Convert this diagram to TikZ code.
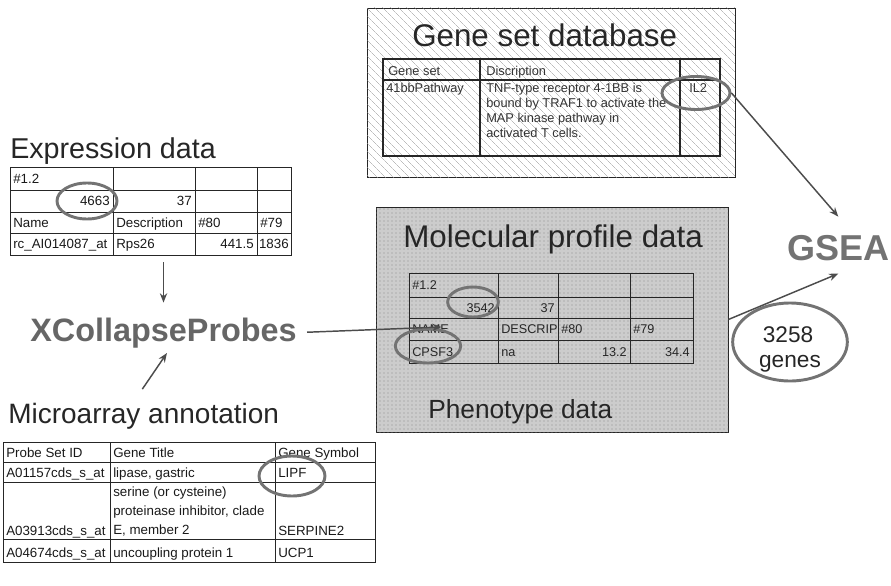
\documentclass[tikz,border=0pt]{standalone}
\usepackage{fontspec}
\setmainfont{Liberation Sans}
\usetikzlibrary{arrows.meta,patterns.meta,shapes.geometric,fit}
\begin{document}
\begin{tikzpicture}[x=0.75pt,y=-0.75pt,
  tl/.style={draw=black!85, line width=0.6pt},
  cell/.style={font=\fontsize{10}{12}\selectfont, inner sep=0pt, text=black!90},
  mcell/.style={font=\fontsize{9.5}{11}\selectfont, inner sep=0pt, text=black!85},
  gcell/.style={font=\fontsize{9.6}{11.25}\selectfont, inner sep=0pt, text=black!80},
  acell/.style={font=\fontsize{10}{14.25}\selectfont, inner sep=0pt, text=black!90},
  title/.style={inner sep=0pt, text=black!85},
  ring/.style={ellipse, draw=black!55, line width=2.2pt, inner sep=0pt},
  arr/.style={draw=black!70, line width=1.1pt, -{Stealth[length=7pt,width=5.5pt]}},
  box/.style={inner sep=0pt, draw=black!85, line width=0.6pt}
]
\useasboundingbox (0,0) rectangle (891,585);

% ---------------- Gene set database ----------------
\node[box, fit={(367,8) (735,177)}, fill=white,
  postaction={pattern={Lines[angle=-45,distance=4pt,line width=0.35pt]}, pattern color=black!40}] (gsdb) {};
\node[title, font=\fontsize{23.5}{26}\selectfont, anchor=base west] (gstitle) at (412,47) {Gene set database};
\node[box, line width=1pt, fit={(383,59) (720,156)}] (gstab) {};
\draw[tl, line width=1pt] (383,80) -- (720,80) (480,59) -- (480,156) (680,59) -- (680,156);
\node[gcell, anchor=base west] (g11) at (388,75) {Gene set};
\node[gcell, anchor=base west] (g12) at (486,75) {Discription};
\node[gcell, anchor=base west] (g21) at (386,92) {41bbPathway};
\node[gcell, anchor=north west, align=left] (g22) at (486,83) {TNF-type receptor 4-1BB is\\bound by TRAF1 to activate the\\MAP kinase pathway in\\activated T cells.};
\node[gcell, anchor=base west] (g23) at (689,92) {IL2};
\node[ring, minimum width=51pt, minimum height=24.75pt] (il2) at (696,93) {};

% ---------------- Expression data ----------------
\node[title, font=\fontsize{21.5}{24}\selectfont, anchor=base west] (exptitle) at (10,158) {Expression data};
\node[box, fit={(10,167) (291,255)}] (et) {};
\draw[tl] (10,190) -- (291,190) (10,212) -- (291,212) (10,233) -- (291,233)
          (113,167) -- (113,255) (195,167) -- (195,255) (257,167) -- (257,255);
\node[cell, anchor=base west] (e11) at (13,183) {\#1.2};
\node[cell, anchor=base east] (e21) at (110,205) {4663};
\node[cell, anchor=base east] (e22) at (192,205) {37};
\node[cell, anchor=base west] (e31) at (13,227) {Name};
\node[cell, anchor=base west] (e32) at (116,227) {Description};
\node[cell, anchor=base west] (e33) at (198,227) {\#80};
\node[cell, anchor=base west] (e34) at (260,227) {\#79};
\node[cell, anchor=base west] (e41) at (13,248) {rc\_AI014087\_at};
\node[cell, anchor=base west] (e42) at (116,248) {Rps26};
\node[cell, anchor=base east] (e43) at (254,248) {441.5};
\node[cell, anchor=base east] (e44) at (289,248) {1836};
\node[ring, minimum width=45pt, minimum height=27pt] (r4663) at (87,201) {};

% ---------------- XCollapseProbes ----------------
\node[title, font=\bfseries\fontsize{24.3}{27}\selectfont, text=black!60, anchor=base west] (xcp) at (30,341) {XCollapseProbes};

% ---------------- Microarray annotation ----------------
\node[title, font=\fontsize{21}{24}\selectfont, anchor=base west] (matitle) at (8,423) {Microarray annotation};
\node[box, fit={(3,442) (375,562)}] (mt) {};
\draw[tl] (3,462) -- (375,462) (3,482) -- (375,482) (3,539) -- (375,539)
          (110,442) -- (110,562) (275,442) -- (275,562);
\node[acell, anchor=base west] (a11) at (6,457) {Probe Set ID};
\node[acell, anchor=base west] (a12) at (113,457) {Gene Title};
\node[acell, anchor=base west] (a13) at (278,457) {Gene Symbol};
\node[acell, anchor=base west] (a21) at (6,477) {A01157cds\_s\_at};
\node[acell, anchor=base west] (a22) at (113,477) {lipase, gastric};
\node[acell, anchor=base west] (a23) at (278,477) {LIPF};
\node[acell, anchor=base west] (a31) at (6,535) {A03913cds\_s\_at};
\node[acell, anchor=north west, align=left] (a32) at (113,487) {serine (or cysteine)\\proteinase inhibitor, clade\\E, member 2};
\node[acell, anchor=base west] (a33) at (278,535) {SERPINE2};
\node[acell, anchor=base west] (a41) at (6,557) {A04674cds\_s\_at};
\node[acell, anchor=base west] (a42) at (113,557) {uncoupling protein 1};
\node[acell, anchor=base west] (a43) at (278,557) {UCP1};
\node[ring, minimum width=49.5pt, minimum height=30pt] (rlipf) at (292,476) {};

% ---------------- Molecular profile data ----------------
\node[box, fit={(376,207) (728,432)}, fill=black!20,
  postaction={pattern={Dots[distance=3pt,radius=0.55pt]}, pattern color=black!45}] (mol) {};
\node[title, font=\fontsize{23.5}{26}\selectfont, anchor=base west] (moltitle) at (403,247) {Molecular profile data};
\node[box, fit={(409,273) (693,363)}] (mtab) {};
\draw[tl] (409,297) -- (693,297) (409,318) -- (693,318) (409,340) -- (693,340)
          (498,273) -- (498,363) (558,273) -- (558,363) (630,273) -- (630,363);
\node[mcell, anchor=base west] (m11) at (412,289) {\#1.2};
\node[mcell, anchor=base east] (m21) at (495,312) {3542};
\node[mcell, anchor=base east] (m22) at (555,312) {37};
\node[mcell, anchor=base west] (m31) at (412,333) {NAME};
\node[mcell, anchor=base west] (m32) at (501,333) {DESCRIP};
\node[mcell, anchor=base west] (m33) at (561,333) {\#80};
\node[mcell, anchor=base west] (m34) at (633,333) {\#79};
\node[mcell, anchor=base west] (m41) at (412,356) {CPSF3};
\node[mcell, anchor=base west] (m42) at (501,356) {na};
\node[mcell, anchor=base east] (m43) at (627,356) {13.2};
\node[mcell, anchor=base east] (m44) at (690,356) {34.4};
\node[ring, minimum width=38pt, minimum height=22.5pt] (r3542) at (473,302) {};
\node[ring, minimum width=49pt, minimum height=25.5pt] (rcpsf) at (428,346) {};
\node[title, font=\fontsize{19.7}{22}\selectfont, anchor=base west] (pheno) at (428,418) {Phenotype data};

% ---------------- GSEA ----------------
\node[title, font=\bfseries\fontsize{27}{30}\selectfont, text=black!55, anchor=base west] (gsea) at (787,260) {GSEA};
\node[ring, minimum width=86pt, minimum height=58.5pt] (genes) at (790,342) {};
\node[title, font=\fontsize{17}{20}\selectfont, anchor=base] (n3258) at (788,342) {3258};
\node[title, font=\fontsize{17}{20}\selectfont, anchor=base] (ngenes) at (790,367) {genes};

% ---------------- connectors ----------------
\draw[arr, shorten <=5pt, shorten >=11pt] (et.south -| xcp.north) -- (xcp.north);
\draw[arr] ([xshift=-1pt,yshift=10pt]matitle.north) -- ([xshift=2.6pt,yshift=-3.75pt]xcp.south);
\draw[arr, shorten <=7.5pt] (xcp.east) -- ([xshift=24.75pt,yshift=-6.75pt]mtab.west);
\draw[arr] (il2.east) -- ([yshift=13.5pt]gsea.north);
\draw[arr] (mol.east) -- ([yshift=-9.75pt]gsea.south);
\end{tikzpicture}
\end{document}
